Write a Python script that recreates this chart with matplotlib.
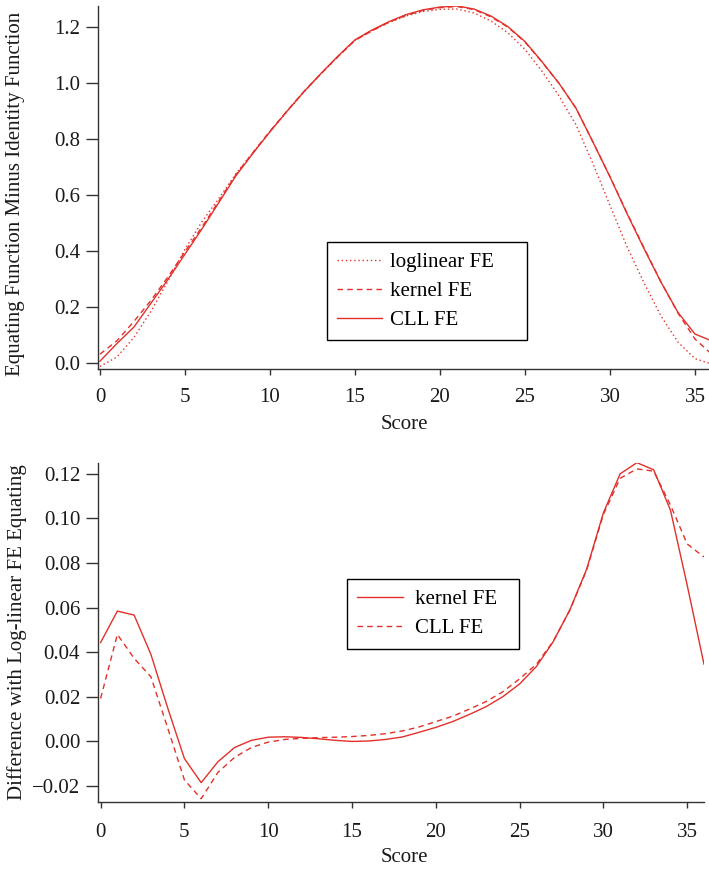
#! /usr/bin/env python3

import numpy as np
import matplotlib
matplotlib.use('Agg')
import matplotlib.pyplot as plt

# score points 0..36
score = np.arange(0, 37)

# equating function minus identity, three frequency-estimation methods
loglinear_fe = [-0.011, 0.023, 0.093, 0.186, 0.294, 0.407, 0.506, 0.589, 0.677, 0.753,
	0.827, 0.899, 0.969, 1.033, 1.095, 1.153, 1.187, 1.217, 1.240, 1.256,
	1.264, 1.265, 1.251, 1.222, 1.180, 1.121, 1.043, 0.955, 0.852, 0.713,
	0.564, 0.417, 0.288, 0.169, 0.076, 0.017, -0.003]
kernel_fe = [0.033, 0.081, 0.150, 0.225, 0.309, 0.399, 0.487, 0.580, 0.674, 0.753,
	0.829, 0.901, 0.971, 1.034, 1.095, 1.153, 1.187, 1.218, 1.242, 1.260,
	1.270, 1.274, 1.263, 1.237, 1.200, 1.147, 1.076, 1.000, 0.911, 0.790,
	0.667, 0.537, 0.413, 0.291, 0.180, 0.087, 0.032]
cll_fe = [0.008, 0.071, 0.130, 0.215, 0.300, 0.390, 0.480, 0.575, 0.670, 0.750,
	0.827, 0.900, 0.970, 1.035, 1.097, 1.155, 1.190, 1.220, 1.245, 1.262,
	1.272, 1.276, 1.265, 1.240, 1.202, 1.149, 1.077, 1.000, 0.911, 0.790,
	0.666, 0.535, 0.410, 0.290, 0.182, 0.105, 0.080]

# differences with the log-linear FE equating
diff_kernel = [0.0443, 0.0584, 0.0566, 0.0390, 0.0150, -0.0078, -0.0186, -0.0092, -0.0028, 0.0004,
	0.0018, 0.0020, 0.0017, 0.0011, 0.0004, -0.0001, 0.0001, 0.0008, 0.0019, 0.0040,
	0.0062, 0.0088, 0.0120, 0.0155, 0.0200, 0.0257, 0.0335, 0.0446, 0.0590, 0.0772,
	0.1025, 0.1200, 0.1250, 0.1218, 0.1037, 0.0700, 0.0346]
diff_cll = [0.0192, 0.0479, 0.0372, 0.0289, 0.0060, -0.0174, -0.0258, -0.0140, -0.0072, -0.0028,
	-0.0004, 0.0008, 0.0013, 0.0016, 0.0018, 0.0021, 0.0026, 0.0034, 0.0046, 0.0064,
	0.0088, 0.0112, 0.0144, 0.0178, 0.0222, 0.0280, 0.0345, 0.0448, 0.0588, 0.0768,
	0.1018, 0.1180, 0.1222, 0.1212, 0.1060, 0.0885, 0.0827]

top_yticks = [0.0, 0.2, 0.4, 0.6, 0.8, 1.0, 1.2]
bottom_yticks = [-0.02, 0.00, 0.02, 0.04, 0.06, 0.08, 0.10, 0.12]
xticks = [0, 5, 10, 15, 20, 25, 30, 35]

RED = '#e2302a'
AXC = '#333333'
FS = 15


def style_axes(ax, xpad):
	for side in ['top', 'right']:
		ax.spines[side].set_visible(False)
	for side in ['left', 'bottom']:
		ax.spines[side].set_color(AXC)
		ax.spines[side].set_linewidth(1.0)
	ax.tick_params(axis='x', length=4, width=1.0, color=AXC, pad=xpad, labelsize=FS, labelcolor='#1a1a1a')
	ax.tick_params(axis='y', length=9, width=1.0, color=AXC, pad=4, labelsize=FS, labelcolor='#1a1a1a')
	ax.set_xticks(xticks)


def main():
	plt.rcParams['font.family'] = ['Liberation Serif', 'DejaVu Serif']
	fig = plt.figure(figsize=(7.09, 8.71), dpi=100)

	# upper panel
	ax1 = fig.add_axes([0.1386, 0.576, 0.8656, 0.4175])
	ax1.plot(score, loglinear_fe, color=RED, lw=1.0, linestyle=(0, (1, 2)), label='loglinear FE')
	ax1.plot(score, kernel_fe, color=RED, lw=1.0, linestyle=(0, (4, 3)), label='kernel FE')
	ax1.plot(score, cll_fe, color=RED, lw=1.0, label='CLL FE')
	ax1.set_xlim(-0.1, 36.0)
	ax1.set_ylim(-0.021, 1.277)
	ax1.set_yticks(top_yticks, ['%.1f' % t for t in top_yticks])
	style_axes(ax1, 9.6)
	ax1.set_xlabel('Score', fontsize=FS, va='center', color='#1a1a1a')
	ax1.xaxis.set_label_coords((404.5 - 98.3) / 613.7, (369.3 - 424.7) / 363.6)
	ax1.set_ylabel('Equating Function Minus Identity Function', fontsize=FS, va='center', color='#1a1a1a')
	ax1.yaxis.set_label_coords((16 - 98.3) / 613.7, (369.3 - 194) / 363.6)
	leg1 = ax1.legend(loc='upper left', bbox_to_anchor=(0.372, 0.0, 0.326, 0.350), mode='expand',
		borderaxespad=0, fontsize=FS, handlelength=2.15, handletextpad=0.4, borderpad=0.5,
		labelspacing=0.45, fancybox=False, framealpha=1, edgecolor='black')
	leg1.get_frame().set_linewidth(1.0)

	# lower panel
	ax2 = fig.add_axes([0.1386, 0.0789, 0.8543, 0.3899])
	ax2.plot(score, diff_kernel, color=RED, lw=1.0, label='kernel FE')
	ax2.plot(score, diff_cll, color=RED, lw=1.0, linestyle=(0, (4, 3)), label='CLL FE')
	ax2.set_xlim(-0.14, 36.0)
	ax2.set_ylim(-0.0274, 0.125)
	ax2.set_yticks(bottom_yticks, ['%.2f' % t if t >= 0 else '\u2212%.2f' % -t for t in bottom_yticks])
	style_axes(ax2, 11)
	ax2.set_xlabel('Score', fontsize=FS, va='center', color='#1a1a1a')
	ax2.xaxis.set_label_coords((404.5 - 98.3) / 605.7, (802.3 - 858) / 339.6)
	ax2.set_ylabel('Difference with Log-linear FE Equating', fontsize=FS, va='center', color='#1a1a1a')
	ax2.yaxis.set_label_coords((17 - 98.3) / 605.7, (802.3 - 631.7) / 339.6)
	leg2 = ax2.legend(loc='upper left', bbox_to_anchor=(0.410, 0.0, 0.285, 0.657), mode='expand',
		borderaxespad=0, fontsize=FS, handlelength=2.2, handletextpad=0.6, borderpad=0.5,
		labelspacing=0.45, fancybox=False, framealpha=1, edgecolor='black')
	leg2.get_frame().set_linewidth(1.0)

	plt.savefig('out.png', dpi=100)
	plt.close()


if __name__ == "__main__":
	main()
